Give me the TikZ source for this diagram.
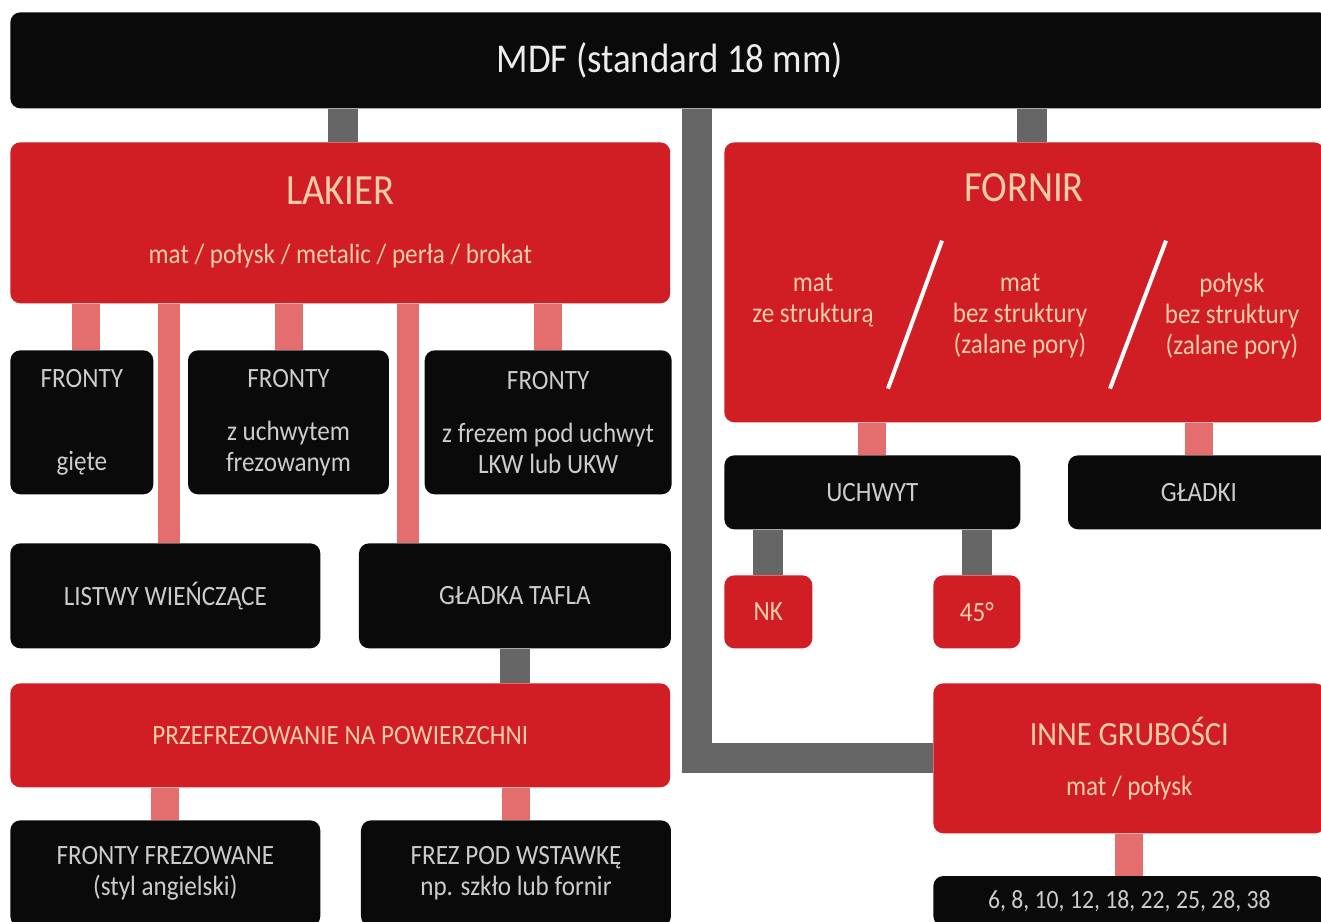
\documentclass[tikz,border=0pt]{standalone}
\usepackage{fontspec}
\setmainfont{Carlito}[FakeStretch=0.9]
\usepackage{tikz}
\usetikzlibrary{positioning,calc}

\definecolor{boxblack}{HTML}{0A0A0A}
\definecolor{boxred}{HTML}{D01E24}
\definecolor{linkgray}{HTML}{666666}
\definecolor{linkpink}{HTML}{E46D6D}
\definecolor{txtgray}{HTML}{CCCCCC}
\definecolor{txtpeach}{HTML}{F8CDA8}

\newcommand{\boxtxt}{\fontsize{15.9}{17.6}\selectfont}
\newcommand{\bigtxt}{\fontsize{24.5}{28}\selectfont}
\newcommand{\toptxt}{\fontsize{23.3}{27}\selectfont}
\newcommand{\midtxt}{\fontsize{19.3}{23}\selectfont}
\newcommand{\numtxt}{\fontsize{15}{17}\selectfont}

\tikzset{
    blackbox/.style={
           rectangle,
           rounded corners=0.2cm,
           fill=boxblack,
           text=txtgray,
           inner sep=0pt,
           align=center,
           font=\boxtxt,
           anchor=north west,
           },
    redbox/.style={
           blackbox,
           fill=boxred,
           text=txtpeach,
           },
    redtext/.style={
           text=txtpeach,
           align=center,
           font=\boxtxt,
           },
    grayline/.style={draw=linkgray, line width=0.6cm},
    pinkline/.style={draw=linkpink, line width=0.56cm},
}

\begin{document}
\begin{tikzpicture}[x=0.02cm,y=-0.02cm]

 % page frame (pixels of the original)
 \clip (0,0) rectangle (1321,922);
 \fill[white] (0,0) rectangle (1321,922);

 % MDF on top, runs off the right edge
 \node[blackbox,
  text=white!93!black,
  font=\toptxt,
  minimum width=26.38cm,
  minimum height=1.92cm] (mdf) at (10,12)
  {MDF (standard 18 mm)};

 % LAKIER branch
 \node[redbox,
  minimum width=13.2cm,
  minimum height=3.22cm] (lakier) at (10,142)
  {{\bigtxt LAKIER}\\[16pt]mat / połysk / metalic / perła / brokat};

 \node[blackbox, minimum width=2.86cm, minimum height=2.88cm] (fronty giete) at (10,350)
  {FRONTY\\[30pt]gięte};
 \node[blackbox, minimum width=4.02cm, minimum height=2.88cm,
  right=0.68cm of fronty giete] (fronty uchwyt)
  {FRONTY\\[12.5pt]z uchwytem\\frezowanym};
 \node[blackbox, minimum width=4.94cm, minimum height=2.88cm,
  right=0.7cm of fronty uchwyt] (fronty frez)
  {FRONTY\\[12.5pt]z frezem pod uchwyt\\LKW lub UKW};

 \node[blackbox, minimum width=6.2cm, minimum height=2.1cm] (listwy) at (10,543)
  {LISTWY WIEŃCZĄCE};
 \node[blackbox, minimum width=6.24cm, minimum height=2.1cm,
  right=0.76cm of listwy] (gladka tafla)
  {GŁADKA TAFLA};

 \node[redbox, minimum width=13.2cm, minimum height=2.08cm] (przefrez) at (10,683)
  {PRZEFREZOWANIE NA POWIERZCHNI};

 \node[blackbox, minimum width=6.2cm, minimum height=2.12cm] (fronty frezowane) at (10,820)
  {FRONTY FREZOWANE\\(styl angielski)};
 \node[blackbox, minimum width=6.2cm, minimum height=2.12cm,
  right=0.8cm of fronty frezowane] (frez wstawka)
  {FREZ POD WSTAWKĘ\\np. szkło lub fornir};

 % FORNIR branch
 \node[redbox,
  minimum width=12cm,
  minimum height=5.6cm] (fornir) at (724,142) {};
 \node[redtext, font=\bigtxt] (fornir title) at (1024,188) {FORNIR};
 \node[redtext] (mat str) at (813,300) {mat\\ze strukturą};
 \node[redtext] (mat bez) at (1020,316) {mat\\bez struktury\\(zalane pory)};
 \node[redtext] (polysk bez) at (1232,316) {połysk\\bez struktury\\(zalane pory)};
 \draw[white, line width=0.08cm]
  ($(fornir.south west)+(164,-34)$) -- ($(fornir.south west)+(218,-182)$)
  ($(fornir.south west)+(386,-34)$) -- ($(fornir.south west)+(442,-182)$);

 \node[blackbox, minimum width=5.92cm, minimum height=1.48cm] (uchwyt) at (724,455) {UCHWYT};
 \node[blackbox, minimum width=5.24cm, minimum height=1.48cm,
  right=0.94cm of uchwyt] (gladki) {GŁADKI};
 \node[redbox, minimum width=1.76cm, minimum height=1.46cm] (nk) at (724,575) {NK};
 \node[redbox, minimum width=1.74cm, minimum height=1.46cm] (deg45) at (933,575) {45°};

 % other thicknesses
 \node[redbox,
  minimum width=7.84cm,
  minimum height=3cm] (inne) at (933,683)
  {{\midtxt INNE GRUBOŚCI}\\[11pt]mat / połysk};
 \node[blackbox, font=\numtxt, minimum width=7.84cm, minimum height=1cm,
  below=0.84cm of inne] (numbers)
  {6, 8, 10, 12, 18, 22, 25, 28, 38};

 % gray links
 \coordinate (lakier link) at ([xshift=0.06cm]lakier.north);
 \coordinate (fornir link) at ([xshift=0.16cm]fornir.north);
 \coordinate (trunk) at ($(lakier.east)!0.5!(fornir.west)$);
 \draw[grayline] (lakier link) -- (lakier link |- mdf.south);
 \draw[grayline] (fornir link) -- (fornir link |- mdf.south);
 \draw[grayline] (trunk |- mdf.south) |- (inne.west);
 \draw[grayline] (gladka tafla.south) -- (gladka tafla.south |- przefrez.north);
 \draw[grayline] (nk.north) -- (nk.north |- uchwyt.south);
 \draw[grayline] (deg45.north) -- (deg45.north |- uchwyt.south);

 % pink links
 \coordinate (giete link) at ([xshift=0.09cm]fronty giete.north);
 \coordinate (listwy link) at ([xshift=0.08cm]listwy.north);
 \coordinate (tafla link) at ([xshift=-2.14cm]gladka tafla.north);
 \draw[pinkline] (giete link) -- (giete link |- lakier.south);
 \draw[pinkline, line width=0.44cm] (listwy link) -- (listwy link |- lakier.south);
 \draw[pinkline] (fronty uchwyt.north) -- (fronty uchwyt.north |- lakier.south);
 \draw[pinkline, line width=0.44cm] (tafla link) -- (tafla link |- lakier.south);
 \draw[pinkline] (fronty frez.north) -- (fronty frez.north |- lakier.south);
 \draw[pinkline] (fronty frezowane.north) -- (fronty frezowane.north |- przefrez.south);
 \draw[pinkline] (frez wstawka.north) -- (frez wstawka.north |- przefrez.south);
 \draw[pinkline] (uchwyt.north) -- (uchwyt.north |- fornir.south);
 \draw[pinkline] (gladki.north) -- (gladki.north |- fornir.south);
 \draw[pinkline] (numbers.north) -- (numbers.north |- inne.south);

\end{tikzpicture}
\end{document}
